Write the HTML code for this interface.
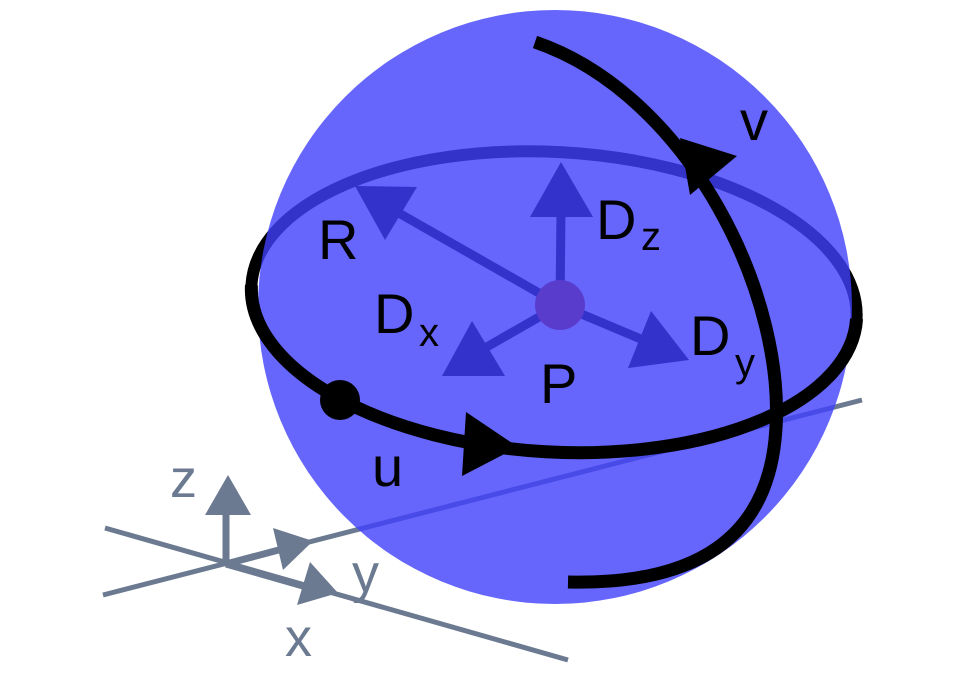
<!DOCTYPE html>
<html><head><meta charset="utf-8"><style>
html,body{margin:0;padding:0;background:#fff;}
svg{display:block;}
text{font-family:"Liberation Sans","DejaVu Sans",sans-serif;}
</style></head><body>
<svg width="969" height="677" viewBox="0 0 969 677" xmlns="http://www.w3.org/2000/svg">
<g stroke="#6b7a91" stroke-width="5" fill="#6b7a91">
<line x1="105" y1="528" x2="568" y2="660"/>
<line x1="103" y1="595" x2="862" y2="400"/>
<line x1="226" y1="564" x2="226" y2="510" stroke-width="7"/>
<line x1="226" y1="564" x2="290" y2="547" stroke-width="7"/>
<line x1="226" y1="564" x2="310" y2="588" stroke-width="7"/>
<polygon points="228,475 205,515 251,515" stroke="none"/>
<polygon points="313,541 273,528 283,570" stroke="none"/>
<polygon points="338,593 310,562 297,605" stroke="none"/>
</g>
<g fill="#6b7a91" font-size="54">
<text x="170" y="497">z</text>
<text x="352" y="592">y</text>
<text x="285" y="656">x</text>
</g>
<g transform="rotate(3.2 554 302)">
<ellipse cx="554" cy="302" rx="303" ry="150" fill="none" stroke="#000" stroke-width="12"/>
</g>
<circle cx="555" cy="307" r="297" fill="rgb(64,64,252)" fill-opacity="0.8"/>
<g transform="rotate(3.2 554 302)">
<path d="M251,302 A303 150 0 0 0 857,302" fill="none" stroke="#000" stroke-width="13"/>
</g>
<g stroke="#3333cc" stroke-width="9" fill="#3333cc">
<line x1="560" y1="305" x2="397" y2="212"/>
<line x1="560" y1="305" x2="561" y2="210"/>
<line x1="560" y1="305" x2="485" y2="348"/>
<line x1="560" y1="305" x2="648" y2="342"/>
<polygon points="355,186 417,187 385,240" stroke="none"/>
<polygon points="561,162 530,217 593,217" stroke="none"/>
<polygon points="442,376 472,321 505,376" stroke="none"/>
<polygon points="689,360 651,311 628,368" stroke="none"/>
</g>
<circle cx="560" cy="305" r="25" fill="#5a3ccc"/>
<circle cx="340" cy="400" r="20" fill="#000"/>
<polygon points="518,447 462,476 466,412" fill="#000"/>
<path d="M535,42 C690,95 790,300 775,440 C765,535 700,585 568,582" fill="none" stroke="#000" stroke-width="13"/>
<polygon points="737,156 690,195 680,138" fill="#000"/>
<g fill="#000" font-size="56">
<text x="318" y="259">R</text>
<text x="596" y="239">D</text><text x="641" y="250" font-size="40">z</text>
<text x="374" y="333">D</text><text x="419" y="346" font-size="40">x</text>
<text x="540" y="403">P</text>
<text x="690" y="355">D</text><text x="735" y="376" font-size="40">y</text>
<text x="372" y="486">u</text>
<text x="740" y="140">v</text>
</g>
</svg>
</body></html>
